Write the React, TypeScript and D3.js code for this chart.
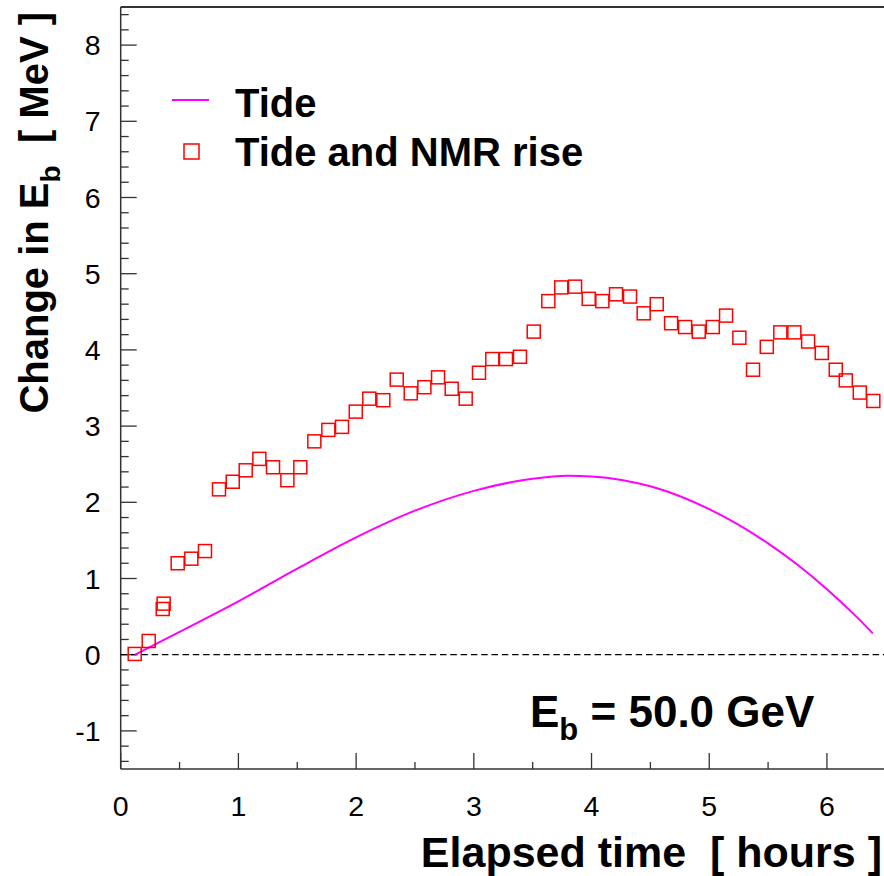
import React, { useEffect, useRef } from "react";
import * as d3 from "d3";

// Measured points: "Tide and NMR rise"
const pointTimes = [
  0.119, 0.238, 0.357, 0.365, 0.484, 0.6, 0.716, 0.835, 0.952, 1.062, 1.178, 1.294,
  1.416, 1.526, 1.645, 1.764, 1.88, 1.997, 2.112, 2.231, 2.345, 2.464, 2.58, 2.696,
  2.812, 2.931, 3.044, 3.157, 3.273, 3.392, 3.509, 3.633, 3.743, 3.86, 3.976, 4.092,
  4.208, 4.327, 4.443, 4.554, 4.676, 4.795, 4.911, 5.03, 5.143, 5.256, 5.372, 5.489,
  5.604, 5.723, 5.84, 5.956, 6.075, 6.16, 6.279, 6.394,
];
const pointValues = [
  0.01, 0.18, 0.6, 0.67, 1.2, 1.26, 1.36, 2.17, 2.27, 2.42, 2.57, 2.46,
  2.29, 2.46, 2.8, 2.95, 2.99, 3.19, 3.36, 3.34, 3.61, 3.43, 3.51, 3.64,
  3.49, 3.36, 3.7, 3.88, 3.88, 3.91, 4.24, 4.64, 4.82, 4.83, 4.67, 4.64,
  4.73, 4.7, 4.48, 4.6, 4.35, 4.3, 4.24, 4.3, 4.45, 4.16, 3.74, 4.04,
  4.23, 4.23, 4.11, 3.96, 3.74, 3.6, 3.44, 3.33,
];

// Tide curve samples
const tideTimes = [0.12, 0.5, 1.0, 1.5, 2.0, 2.5, 3.0, 3.5, 3.8, 4.0, 4.5, 5.0, 5.5, 5.75, 6.0, 6.25, 6.39];
const tideValues = [0.0, 0.3, 0.7, 1.13, 1.54, 1.89, 2.15, 2.31, 2.35, 2.34, 2.21, 1.91, 1.46, 1.18, 0.86, 0.5, 0.28];

const xTickLabels = ["0", "1", "2", "3", "4", "5", "6"];
const yTickLabels = ["-1", "0", "1", "2", "3", "4", "5", "6", "7", "8"];

const W = 884;
const H = 876;

export default function App() {
  const ref = useRef<SVGSVGElement | null>(null);

  useEffect(() => {
    const svg = d3.select(ref.current);
    svg.selectAll("*").remove();

    const left = 120.7;
    const top = 7;
    const bottom = 769;
    const right = 885.8;

    const x = d3.scaleLinear().domain([0, 6.5]).range([left, right]);
    const y = d3.scaleLinear().domain([-1.5, 8.5]).range([bottom, top]);

    svg.append("rect").attr("width", W).attr("height", H).attr("fill", "#fff");

    const axisColor = "#333";
    const font = "Liberation Sans, Arial, sans-serif";
    const g = svg.append("g");

    // frame
    g.append("line").attr("x1", left).attr("x2", right).attr("y1", top).attr("y2", top)
      .attr("stroke", axisColor).attr("stroke-width", 2);
    g.append("line").attr("x1", left).attr("x2", right).attr("y1", bottom).attr("y2", bottom)
      .attr("stroke", axisColor).attr("stroke-width", 1.5);
    g.append("line").attr("x1", left).attr("x2", left).attr("y1", top).attr("y2", bottom)
      .attr("stroke", axisColor).attr("stroke-width", 1.5);

    // y ticks
    const yMinor = d3.range(-7, 43).map((i) => i * 0.2).filter((v) => v > -1.5 && v < 8.5);
    g.selectAll(".ymt").data(yMinor).enter().append("line")
      .attr("x1", left).attr("x2", (d) => left + (Math.abs(Math.round(d) - d) < 1e-6 ? 16 : 8))
      .attr("y1", (d) => y(d)).attr("y2", (d) => y(d))
      .attr("stroke", axisColor).attr("stroke-width", 1.3);

    g.selectAll(".ylab").data(yTickLabels).enter().append("text")
      .attr("x", left - 20).attr("y", (d) => y(+d) + 10)
      .attr("text-anchor", "end")
      .attr("font-family", font)
      .attr("font-size", 28.5).attr("fill", "#000")
      .text((d) => d);

    // x ticks
    const xMinor = d3.range(0, 13).map((i) => i * 0.5);
    g.selectAll(".xmt").data(xMinor).enter().append("line")
      .attr("x1", (d) => x(d)).attr("x2", (d) => x(d))
      .attr("y1", bottom).attr("y2", (d) => bottom - (d % 1 === 0 ? 16 : 7))
      .attr("stroke", axisColor).attr("stroke-width", 1.3);

    g.selectAll(".xlab").data(xTickLabels).enter().append("text")
      .attr("x", (d) => x(+d)).attr("y", 816)
      .attr("text-anchor", "middle")
      .attr("font-family", font)
      .attr("font-size", 28.5).attr("fill", "#000")
      .text((d) => d);

    // zero dashed line
    g.append("line").attr("x1", left).attr("x2", right).attr("y1", y(0)).attr("y2", y(0))
      .attr("stroke", "#000").attr("stroke-width", 1.2).attr("stroke-dasharray", "6.5,3.8");

    // tide curve
    const tideData = tideTimes.map((t, i) => [t, tideValues[i]] as [number, number]);
    const line = d3.line<[number, number]>()
      .x((d) => x(d[0])).y((d) => y(d[1]))
      .curve(d3.curveMonotoneX);
    g.append("path").attr("d", line(tideData) || "")
      .attr("fill", "none").attr("stroke", "#ff00ff").attr("stroke-width", 2);

    // points
    const s = 13;
    g.selectAll(".pt").data(pointTimes.map((t, i) => [t, pointValues[i]])).enter().append("rect")
      .attr("x", (d) => x(d[0]) - s / 2).attr("y", (d) => y(d[1]) - s / 2)
      .attr("width", s).attr("height", s)
      .attr("fill", "none").attr("stroke", "#ff0000").attr("stroke-width", 1.5);

    // legend
    g.append("line").attr("x1", 172).attr("x2", 209).attr("y1", 100).attr("y2", 100)
      .attr("stroke", "#ff00ff").attr("stroke-width", 2);
    g.append("text").attr("x", 235).attr("y", 117).attr("font-family", font)
      .attr("font-weight", "bold").attr("font-size", 40).text("Tide");
    g.append("rect").attr("x", 184).attr("y", 144).attr("width", 15).attr("height", 15)
      .attr("fill", "none").attr("stroke", "#ff0000").attr("stroke-width", 1.5);
    g.append("text").attr("x", 235).attr("y", 166).attr("font-family", font)
      .attr("font-weight", "bold").attr("font-size", 40).text("Tide and NMR rise");

    // annotation
    const ann = g.append("text").attr("x", 530).attr("y", 727).attr("font-family", font)
      .attr("font-weight", "bold").attr("font-size", 44);
    ann.append("tspan").text("E");
    ann.append("tspan").attr("dy", 13).attr("font-size", 31).text("b");
    ann.append("tspan").attr("dy", -13).text(" = 50.0 GeV");

    // x title
    g.append("text").attr("x", 882).attr("y", 867).attr("text-anchor", "end")
      .attr("font-family", font).attr("font-weight", "bold").attr("font-size", 43)
      .attr("xml:space", "preserve")
      .text("Elapsed time  [ hours ]");

    // y title
    const yt = g.append("text").attr("transform", "translate(48,12) rotate(-90)")
      .attr("text-anchor", "end").attr("font-family", font)
      .attr("font-weight", "bold").attr("font-size", 40)
      .attr("xml:space", "preserve");
    yt.append("tspan").text("Change in E");
    yt.append("tspan").attr("dy", 12).attr("font-size", 28).text("b");
    yt.append("tspan").attr("dy", -12).text("  [ MeV ]");
  }, []);

  return (
    <svg
      ref={ref}
      width={W}
      height={H}
      style={{ position: "absolute", left: 0, top: 0, display: "block" }}
    />
  );
}
